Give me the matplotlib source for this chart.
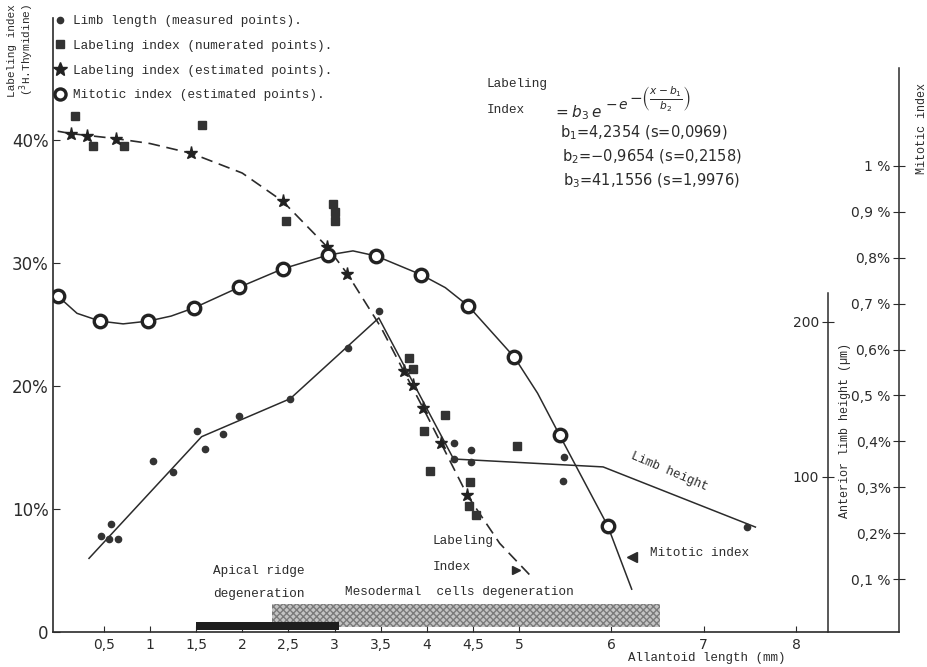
import matplotlib
matplotlib.use("Agg")
import matplotlib.pyplot as plt
from matplotlib.lines import Line2D

# ---- data ----
# limb height (anterior limb height, um) - measured points and the drawn polyline
limb_x = [0.47, 0.56, 0.58, 0.65, 1.03, 1.25, 1.51, 1.60, 1.79, 1.96, 2.52,
          3.15, 3.48, 4.29, 4.30, 4.48, 4.48, 5.49, 5.48, 7.47]
limb_h = [61.7, 60.2, 69.9, 60.0, 110.5, 103.2, 129.7, 118.3, 127.9, 139.4, 150.5,
          183.0, 207.0, 111.6, 122.0, 117.2, 109.7, 112.9, 97.2, 67.7]
limb_line_x = [0.34, 1.56, 2.52, 3.48, 4.29, 5.91, 7.56]
limb_line_h = [47.5, 126.0, 150.5, 202.6, 111.6, 106.5, 67.7]

# labeling index (%) - numerated points (squares)
li_num_x = [0.19, 0.38, 0.72, 1.56, 2.47, 2.98, 3.00, 3.01, 3.81, 3.85,
            4.20, 3.97, 4.98, 4.03, 4.47, 4.46, 4.53]
li_num_y = [41.9, 39.5, 39.5, 41.2, 33.4, 34.8, 34.1, 33.4, 22.3, 21.4,
            17.6, 16.3, 15.1, 13.1, 12.2, 10.2, 9.5]

# labeling index (%) - estimated points (stars)
li_est_x = [0.15, 0.32, 0.63, 1.45, 2.44, 2.92, 3.14, 3.75, 3.85, 3.96, 4.15, 4.44]
li_est_y = [40.5, 40.3, 40.1, 38.9, 35.0, 31.3, 29.1, 21.2, 20.1, 18.2, 15.4, 11.1]

# dashed fitted labeling index curve
li_fit_x = [0.0, 0.15, 0.63, 1.0, 1.45, 2.0, 2.44, 2.92, 3.14, 3.5, 3.75,
            3.96, 4.15, 4.44, 4.79, 5.12]
li_fit_y = [40.7, 40.5, 40.1, 39.7, 38.9, 37.3, 35.0, 31.3, 29.1, 24.8, 21.2,
            18.2, 15.4, 11.1, 7.2, 4.6]

# mitotic index (%) - estimated points (circles) and the drawn curve
mi_x = [0.0, 0.46, 0.98, 1.48, 1.97, 2.44, 2.93, 3.45, 3.94, 4.45, 4.95, 5.44, 5.96]
mi_y = [0.717, 0.662, 0.662, 0.691, 0.736, 0.776, 0.806, 0.804, 0.763, 0.695,
        0.583, 0.413, 0.216]
mi_curve_x = [0.0, 0.21, 0.46, 0.71, 0.98, 1.23, 1.48, 1.97, 2.44, 2.93, 3.2,
              3.45, 3.94, 4.2, 4.45, 4.95, 5.2, 5.44, 5.96, 6.22]
mi_curve_y = [0.717, 0.679, 0.662, 0.656, 0.662, 0.673, 0.691, 0.736, 0.776,
              0.806, 0.815, 0.804, 0.763, 0.735, 0.695, 0.583, 0.505, 0.413,
              0.216, 0.078]

# degeneration periods (allantoid length, mm)
apical_ridge = (1.5, 3.05)
mesodermal = (2.32, 6.53)

x_ticks = [0.5, 1, 1.5, 2, 2.5, 3, 3.5, 4, 4.5, 5, 6, 7, 8]
x_labels = ["0,5", "1", "1,5", "2", "2,5", "3", "3,5", "4", "4,5", "5", "6", "7", "8"]
li_ticks = [0, 10, 20, 30, 40]
li_labels = ["0", "10%", "20%", "30%", "40%"]
lh_ticks = [100, 200]
mi_ticks = [0.1, 0.2, 0.3, 0.4, 0.5, 0.6, 0.7, 0.8, 0.9, 1.0]
mi_labels = ["0,1 %", "0,2%", "0,3%", "0,4%", "0,5 %", "0,6%", "0,7 %",
             "0,8%", "0,9 %", "1 %"]

INK = "#2b2b2b"
MONO = "Liberation Mono"

fig = plt.figure(figsize=(9.27, 6.67), dpi=100)
ax = fig.add_axes([53 / 927, 35 / 667, 846 / 927, 614 / 667])
ax.set_xlim(-0.05, 9.116)
ax.set_ylim(0, 49.9)
for s in ["top", "right"]:
    ax.spines[s].set_visible(False)
for s in ["left", "bottom"]:
    ax.spines[s].set_color(INK)
    ax.spines[s].set_linewidth(1.2)

ax.set_xticks(x_ticks)
ax.set_xticklabels(x_labels)
ax.set_yticks(li_ticks)
ax.set_yticklabels(li_labels)
ax.tick_params(axis="x", direction="in", length=4, color=INK, labelsize=10,
               labelcolor=INK, pad=4)
ax.tick_params(axis="y", direction="in", length=5, color=INK, labelsize=12,
               labelcolor=INK, pad=3)

# degeneration bars
ax.broken_barh([(mesodermal[0], mesodermal[1] - mesodermal[0])], (0.4, 1.9),
               facecolor="#c4c4c4", edgecolor="#7a7a7a", hatch="xxxxx",
               linewidth=0, zorder=2)
ax.broken_barh([(apical_ridge[0], apical_ridge[1] - apical_ridge[0])], (0.15, 0.7),
               facecolor="#1e1e1e", linewidth=0, zorder=3)

# labeling index
ax.plot(li_fit_x, li_fit_y, color=INK, lw=1.2, dashes=(7, 4), zorder=4)
ax.plot(li_num_x, li_num_y, ls="none", marker="s", ms=5.5, color="#333333", zorder=5)
ax.plot(li_est_x, li_est_y, ls="none", marker="*", ms=9.5, color="#222222", zorder=5)

# limb height axis
ax_lh = ax.twinx()
ax_lh.set_ylim(0, 396.1)
for s in ["top", "right", "bottom"]:
    ax_lh.spines[s].set_visible(False)
ax_lh.spines["left"].set_position(("axes", 775 / 846))
ax_lh.spines["left"].set_bounds(0, 219)
ax_lh.spines["left"].set_color(INK)
ax_lh.spines["left"].set_linewidth(1.1)
ax_lh.yaxis.tick_left()
ax_lh.set_yticks(lh_ticks)
ax_lh.tick_params(axis="y", direction="inout", length=9, color=INK, labelsize=10,
                  labelcolor=INK, pad=2)
ax_lh.plot(limb_line_x, limb_line_h, color=INK, lw=1.1, zorder=4)
ax_lh.plot(limb_x, limb_h, ls="none", marker="o", ms=4.5, color="#333333", zorder=5)

# mitotic index axis
ax_mi = ax.twinx()
ax_mi.set_ylim(-0.0153, 1.3224)
for s in ["top", "right", "bottom"]:
    ax_mi.spines[s].set_visible(False)
ax_mi.spines["left"].set_position(("axes", 1.0))
ax_mi.spines["left"].set_bounds(-0.0153, 1.213)
ax_mi.spines["left"].set_color(INK)
ax_mi.spines["left"].set_linewidth(1.1)
ax_mi.yaxis.tick_left()
ax_mi.set_yticks(mi_ticks)
ax_mi.set_yticklabels(mi_labels)
ax_mi.tick_params(axis="y", direction="inout", length=8, color=INK, labelsize=10,
                  labelcolor=INK, pad=2)
ax_mi.plot(mi_curve_x, mi_curve_y, color=INK, lw=1.1, zorder=4)
ax_mi.plot(mi_x, mi_y, ls="none", marker="o", ms=9, mfc="white", mec="#222222",
           mew=2.4, zorder=5)

# axis titles
fig.text(12 / 927, 1 - 4 / 667, "Labeling index", rotation=90, ha="center",
         va="top", family=MONO, fontsize=8, color=INK)
fig.text(27 / 927, 1 - 4 / 667, "($^3$H.Thymidine)", rotation=90, ha="center",
         va="top", family=MONO, fontsize=8, color=INK)
fig.text(922 / 927, 1 - 128 / 667, "Mitotic index", rotation=90, ha="center",
         va="center", family=MONO, fontsize=8.5, color=INK)
fig.text(845 / 927, 1 - 430 / 667, "Anterior limb height (µm)", rotation=90,
         ha="center", va="center", family=MONO, fontsize=8.5, color=INK)
fig.text(707 / 927, 1 - 658 / 667, "Allantoid length (mm)", ha="center",
         va="center", family=MONO, fontsize=9, color=INK)

# legend
handles = [
    Line2D([], [], ls="none", marker="o", ms=4.5, color="#333333"),
    Line2D([], [], ls="none", marker="s", ms=6, color="#333333"),
    Line2D([], [], ls="none", marker="*", ms=10, color="#222222"),
    Line2D([], [], ls="none", marker="o", ms=8, mfc="white", mec="#222222", mew=2.4),
]
labels = ["Limb length (measured points).",
          "Labeling index (numerated points).",
          "Labeling index (estimated points).",
          "Mitotic index (estimated points)."]
fig.legend(handles, labels, loc="upper left", bbox_to_anchor=(55 / 927, 1 - 15 / 667),
           frameon=False, prop={"family": MONO, "size": 9.2}, handlelength=0.8,
           handletextpad=0.6, labelspacing=1.0, borderpad=0, borderaxespad=0,
           labelcolor=INK)

# formula block
ax.text(4.65, 44.5, "Labeling", family=MONO, fontsize=9.2, color=INK, va="center")
ax.text(4.65, 42.4, "Index", family=MONO, fontsize=9.2, color=INK, va="center")
ax.text(5.367, 42.2, r"$=b_3\,e$", fontsize=11, color=INK, va="center")
ax.text(5.93, 42.85, r"$-\,e$", fontsize=10, color=INK, va="center")
ax.text(6.19, 43.3, r"$-\left(\frac{x-b_1}{b_2}\right)$", fontsize=11,
        color=INK, va="center")
ax.text(5.44, 40.6, r"b$_1$=4,2354 (s=0,0969)", fontsize=10.5, color=INK, va="center")
ax.text(5.46, 38.6, r"b$_2$=$-$0,9654 (s=0,2158)", fontsize=10.5, color=INK, va="center")
ax.text(5.48, 36.7, r"b$_3$=41,1556 (s=1,9976)", fontsize=10.5, color=INK, va="center")

# in-plot annotations
ax.text(4.06, 7.4, "Labeling", family=MONO, fontsize=9.2, color=INK, va="center")
ax.text(4.06, 5.3, "Index", family=MONO, fontsize=9.2, color=INK, va="center")
ax.plot([4.97], [5.0], marker=">", ms=6, color=INK, ls="none")
ax.text(1.68, 4.96, "Apical ridge", family=MONO, fontsize=9.2, color=INK, va="center")
ax.text(1.68, 3.09, "degeneration", family=MONO, fontsize=9.2, color=INK, va="center")
ax.text(3.11, 3.25, "Mesodermal  cells degeneration", family=MONO, fontsize=9.2,
        color=INK, va="center")
ax.text(6.63, 13.0, "Limb height", family=MONO, fontsize=9, color=INK,
        ha="center", va="center", rotation=-23)
ax.text(6.42, 6.42, "Mitotic index", family=MONO, fontsize=9.2, color=INK, va="center")
ax.plot([6.22], [6.1], marker="<", ms=7, color=INK, ls="none")

fig.savefig("out.png", dpi=100)
